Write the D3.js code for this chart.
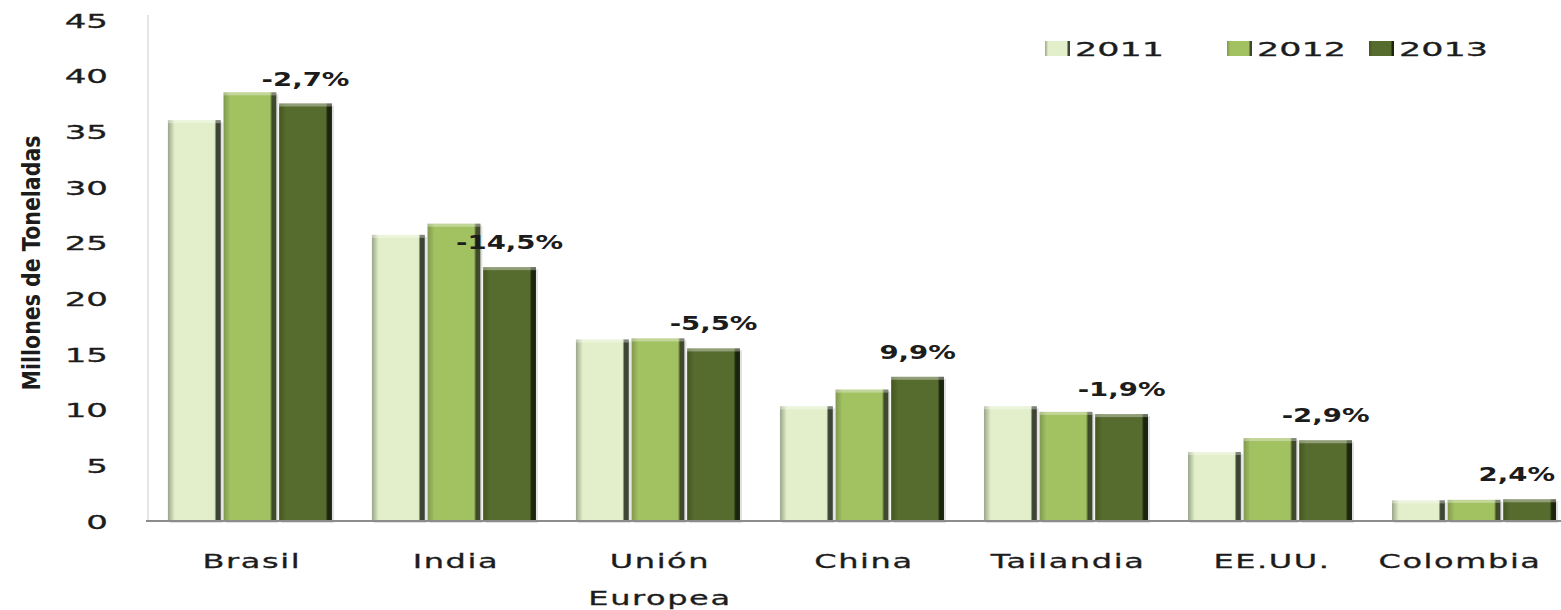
<!DOCTYPE html>
<html>
<head>
<meta charset="utf-8">
<script src="https://unpkg.com/d3@7/dist/d3.min.js"></script>
<style>
  html, body { margin: 0; padding: 0; background: #fff; }
  svg { display: block; }
  text { font-family: "DejaVu Sans", Verdana, sans-serif; fill: #1c1c1c; }
</style>
</head>
<body>
<div id="chart"></div>
<script>
// data
let countries = ['Brasil', 'India', 'Unión\nEuropea', 'China', 'Tailandia', 'EE.UU.', 'Colombia']
let years = ['2011', '2012', '2013']
let v2011 = [36.0, 25.7, 16.3, 10.3, 10.3, 6.2, 1.85]
let v2012 = [38.5, 26.7, 16.4, 11.8, 9.8, 7.45, 1.9]
let v2013 = [37.5, 22.8, 15.5, 12.95, 9.6, 7.25, 1.95]
let changes = ['-2,7%', '-14,5%', '-5,5%', '9,9%', '-1,9%', '-2,9%', '2,4%']
let yTicks = [0, 5, 10, 15, 20, 25, 30, 35, 40, 45]

let w = 1561,
    h = 610,
    plotLeft = 148,
    plotRight = 1561,
    plotTop = 20,
    plotBottom = 521,
    sx = 1.7 // the text in the picture is stretched wide

let series = [v2011, v2012, v2013]
let colors = [
    { edge: '#9aa58a', main: '#e2efca', dark: '#3c4434' },
    { edge: '#7f9850', main: '#a2c160', dark: '#3e4a2a' },
    { edge: '#44561f', main: '#566b2e', dark: '#1b240c' }
]

let svg = d3.select('#chart')
    .append('svg')
    .attr('width', w)
    .attr('height', h)

let defs = svg.append('defs')
colors.forEach((c, i) => {
    let g = defs.append('linearGradient')
        .attr('id', 'bar' + i)
        .attr('x1', 0).attr('x2', 1).attr('y1', 0).attr('y2', 0)
    g.append('stop').attr('offset', 0).attr('stop-color', c.edge)
    g.append('stop').attr('offset', 0.13).attr('stop-color', c.main)
    g.append('stop').attr('offset', 0.88).attr('stop-color', c.main)
    g.append('stop').attr('offset', 0.92).attr('stop-color', c.dark)
    g.append('stop').attr('offset', 1).attr('stop-color', c.dark)
})

let x0 = d3.scaleBand()
    .domain(countries)
    .range([plotLeft, plotRight])
    .paddingInner(0.196)
    .paddingOuter(0.061)
    .align(0.8)

let x1 = d3.scaleBand()
    .domain(years)
    .range([0, x0.bandwidth()])
    .paddingInner(0.05)

let y = d3.scaleLinear()
    .domain([0, 45])
    .range([plotBottom, plotTop])

// axes lines
svg.append('line')
    .attr('x1', plotLeft).attr('x2', plotLeft)
    .attr('y1', 15).attr('y2', plotBottom)
    .attr('stroke', '#dcdcdc')
    .attr('stroke-width', 1.5)

let yAxis = d3.axisLeft(y).tickValues(yTicks).tickSize(0).tickPadding(0)
svg.append('g')
    .attr('transform', `translate(108,0)`)
    .call(yAxis)
    .call(g => g.select('.domain').remove())
    .call(g => g.selectAll('text')
        .attr('font-size', 20)
        .attr('font-family', '"DejaVu Sans", Verdana, sans-serif')
        .attr('fill', '#1c1c1c')
        .attr('stroke', '#1c1c1c')
        .attr('stroke-width', 0.3)
        .attr('dy', '0.36em')
        .attr('x', 0)
        .attr('transform', `scale(${sx},1)`))

// groups of bars
let groups = svg.selectAll('g.grp')
    .data(countries)
    .enter()
    .append('g')
    .attr('class', 'grp')
    .attr('transform', d => `translate(${x0(d)},0)`)

let barData = (d, i) => series.map((s, j) => ({ yr: years[j], v: s[i], j }))

groups.selectAll('rect.shadow')
    .data(barData)
    .enter()
    .append('rect')
    .attr('class', 'shadow')
    .attr('x', d => x1(d.yr) + 2)
    .attr('y', d => y(d.v) + 2)
    .attr('width', x1.bandwidth())
    .attr('height', d => plotBottom - y(d.v))
    .attr('fill', 'rgba(0,0,0,0.12)')

groups.selectAll('rect.bar')
    .data(barData)
    .enter()
    .append('rect')
    .attr('class', 'bar')
    .attr('x', d => x1(d.yr))
    .attr('y', d => y(d.v))
    .attr('width', x1.bandwidth())
    .attr('height', d => plotBottom - y(d.v))
    .attr('fill', d => `url(#bar${d.j})`)

// top bevel
groups.selectAll('rect.bevel')
    .data(barData)
    .enter()
    .append('rect')
    .attr('class', 'bevel')
    .attr('x', d => x1(d.yr))
    .attr('y', d => y(d.v))
    .attr('width', x1.bandwidth())
    .attr('height', 3)
    .attr('fill', 'rgba(255,255,255,0.35)')

// x axis line
svg.append('line')
    .attr('x1', plotLeft - 2).attr('x2', plotRight)
    .attr('y1', plotBottom).attr('y2', plotBottom)
    .attr('stroke', '#8c8c8c')
    .attr('stroke-width', 2)

// category labels
groups.each(function (d, i) {
    let lines = d.split('\n')
    let cx = x0.bandwidth() / 2 + (i === countries.length - 1 ? -14 : 2)
    lines.forEach((ln, k) => {
        d3.select(this).append('text')
            .text(ln)
            .attr('text-anchor', 'middle')
            .attr('font-size', 20)
            .attr('letter-spacing', 1)
            .attr('stroke', '#1c1c1c')
            .attr('stroke-width', 0.3)
            .attr('transform', `translate(${cx},${568 + k * 37}) scale(1.6,1)`)
    })
})

// change labels above the 2013 bar
groups.append('text')
    .text((d, i) => changes[i])
    .attr('text-anchor', 'middle')
    .attr('font-size', 19)
    .attr('font-weight', 'bold')
    .attr('transform', function (d, i) {
        let gx = x0(d)
        let cx = x1('2013') + x1.bandwidth() / 2
        let half = this.getComputedTextLength() * 1.45 / 2
        cx = Math.min(cx, plotRight - gx - half - 6)
        return `translate(${cx},${y(v2013[i]) - 18}) scale(1.45,1)`
    })

// legend
let legend = svg.append('g')
let legX = [1045, 1227, 1369]
years.forEach((yr, j) => {
    legend.append('rect')
        .attr('x', legX[j])
        .attr('y', 41)
        .attr('width', 25)
        .attr('height', 15)
        .attr('fill', `url(#bar${j})`)
    legend.append('text')
        .text(yr)
        .attr('font-size', 20)
        .attr('stroke', '#1c1c1c')
        .attr('stroke-width', 0.3)
        .attr('transform', `translate(${legX[j] + 30},${56}) scale(1.75,1)`)
})

// y title
svg.append('text')
    .text('Millones de Toneladas')
    .attr('text-anchor', 'middle')
    .attr('font-family', '"DejaVu Sans Condensed", "Liberation Sans Narrow", sans-serif')
    .attr('font-weight', 'bold')
    .attr('font-size', 25)
    .attr('fill', '#000')
    .attr('textLength', 255)
    .attr('lengthAdjust', 'spacingAndGlyphs')
    .attr('transform', 'translate(40,263) rotate(-90)')
</script>
</body>
</html>
